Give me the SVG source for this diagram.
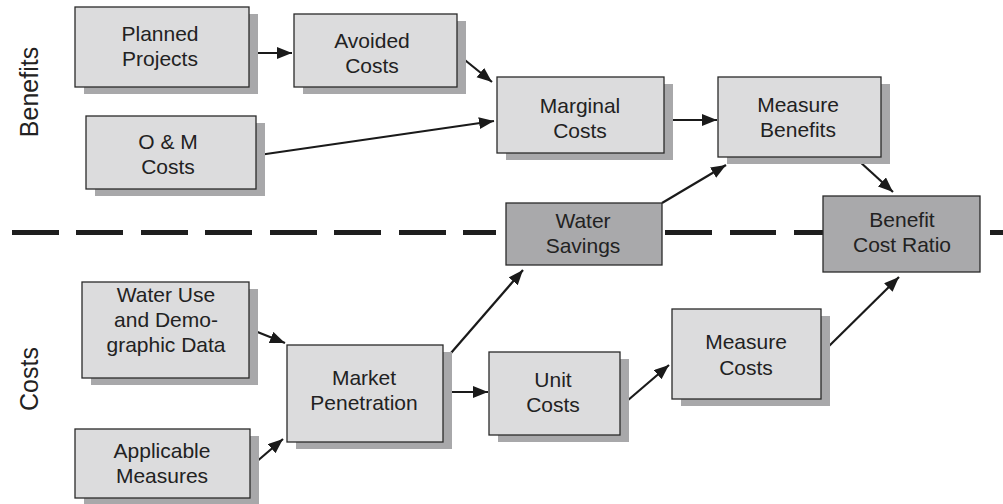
<svg xmlns="http://www.w3.org/2000/svg" width="1003" height="504" viewBox="0 0 1003 504">
<defs>
<style>
.box{fill:#dcdcdd;stroke:#2a2a2a;stroke-width:1.3}
.dark{fill:#a9a9ab;stroke:#2a2a2a;stroke-width:1.3}
.sh{fill:#a8a8aa}
.t{font-family:"Liberation Sans",Arial,sans-serif;font-size:21px;fill:#222;text-anchor:middle}
.side{font-family:"Liberation Sans",Arial,sans-serif;font-size:25px;fill:#222;text-anchor:middle}
.c{stroke:#1a1a1a;stroke-width:2.2;fill:none;marker-end:url(#ah)}
.dash{stroke:#1e1e1e;stroke-width:5;fill:none}
</style>
<marker id="ah" markerUnits="userSpaceOnUse" markerWidth="16" markerHeight="13" refX="15" refY="6" orient="auto">
<path d="M0,0 L15,6 L0,12 z" fill="#1a1a1a"/>
</marker>
</defs>
<rect width="1003" height="504" fill="#ffffff"/>

<g id="side-labels">
<text class="side" transform="translate(38,92) rotate(-90)">Benefits</text>
<text class="side" transform="translate(38,379) rotate(-90)">Costs</text>
</g>

<g id="divider">
<path class="dash" d="M12,232.5H59 M76,232.5H123 M141,232.5H188 M205,232.5H252 M270,232.5H317 M334,232.5H381 M399,232.5H446 M463,232.5H496 M665,232.5H712 M730,232.5H776 M794,232.5H824 M990,232.5H1003"/>
</g>

<g id="connectors">
<line class="c" x1="256" y1="53" x2="292" y2="53"/>
<line class="c" x1="455" y1="52" x2="492" y2="82"/>
<line class="c" x1="259" y1="155" x2="494" y2="121"/>
<line class="c" x1="671" y1="120" x2="717" y2="120"/>
<line class="c" x1="662" y1="203" x2="726" y2="165"/>
<line class="c" x1="859" y1="161" x2="893" y2="192"/>
<line class="c" x1="255" y1="331" x2="285" y2="343"/>
<line class="c" x1="255" y1="463" x2="283" y2="439"/>
<line class="c" x1="451" y1="353" x2="523" y2="270"/>
<line class="c" x1="451" y1="392" x2="488" y2="392"/>
<line class="c" x1="627" y1="401" x2="669" y2="365"/>
<line class="c" x1="825" y1="350" x2="899" y2="277"/>
</g>

<g id="planned-projects">
<rect class="sh" x="84" y="14" width="174" height="80"/>
<rect class="box" x="75" y="7" width="174" height="80"/>
<text class="t" x="160" y="41">Planned</text>
<text class="t" x="160" y="66">Projects</text>
</g>

<g id="avoided-costs">
<rect class="sh" x="303" y="21" width="163" height="73"/>
<rect class="box" x="294" y="14" width="163" height="73"/>
<text class="t" x="372" y="48">Avoided</text>
<text class="t" x="372" y="73">Costs</text>
</g>

<g id="om-costs">
<rect class="sh" x="95" y="123" width="170" height="73"/>
<rect class="box" x="86" y="116" width="170" height="73"/>
<text class="t" x="168" y="149">O &amp; M</text>
<text class="t" x="168" y="174">Costs</text>
</g>

<g id="marginal-costs">
<rect class="sh" x="506" y="84" width="167" height="76"/>
<rect class="box" x="497" y="77" width="167" height="76"/>
<text class="t" x="580" y="113">Marginal</text>
<text class="t" x="580" y="138">Costs</text>
</g>

<g id="measure-benefits">
<rect class="sh" x="727" y="84" width="163" height="80"/>
<rect class="box" x="718" y="77" width="163" height="80"/>
<text class="t" x="798" y="112">Measure</text>
<text class="t" x="798" y="137">Benefits</text>
</g>

<g id="water-savings">
<rect class="dark" x="506" y="203" width="156" height="62"/>
<text class="t" x="583" y="228">Water</text>
<text class="t" x="583" y="253">Savings</text>
</g>

<g id="benefit-cost-ratio">
<rect class="dark" x="823" y="196" width="157" height="76"/>
<text class="t" x="902" y="227">Benefit</text>
<text class="t" x="902" y="252">Cost Ratio</text>
</g>

<g id="water-use">
<rect class="sh" x="91" y="289" width="167" height="96"/>
<rect class="box" x="82" y="282" width="167" height="96"/>
<text class="t" x="166" y="302">Water Use</text>
<text class="t" x="166" y="327">and Demo-</text>
<text class="t" x="166" y="352">graphic Data</text>
</g>

<g id="market-penetration">
<rect class="sh" x="296" y="352" width="156" height="97"/>
<rect class="box" x="287" y="345" width="156" height="97"/>
<text class="t" x="364" y="385">Market</text>
<text class="t" x="364" y="410">Penetration</text>
</g>

<g id="applicable-measures">
<rect class="sh" x="84" y="436" width="175" height="68"/>
<rect class="box" x="75" y="429" width="175" height="69"/>
<text class="t" x="162" y="458">Applicable</text>
<text class="t" x="162" y="483">Measures</text>
</g>

<g id="unit-costs">
<rect class="sh" x="498" y="359" width="131" height="83"/>
<rect class="box" x="489" y="352" width="131" height="83"/>
<text class="t" x="553" y="387">Unit</text>
<text class="t" x="553" y="412">Costs</text>
</g>

<g id="measure-costs">
<rect class="sh" x="681" y="316" width="149" height="90"/>
<rect class="box" x="672" y="309" width="149" height="90"/>
<text class="t" x="746" y="349">Measure</text>
<text class="t" x="746" y="375">Costs</text>
</g>
</svg>
